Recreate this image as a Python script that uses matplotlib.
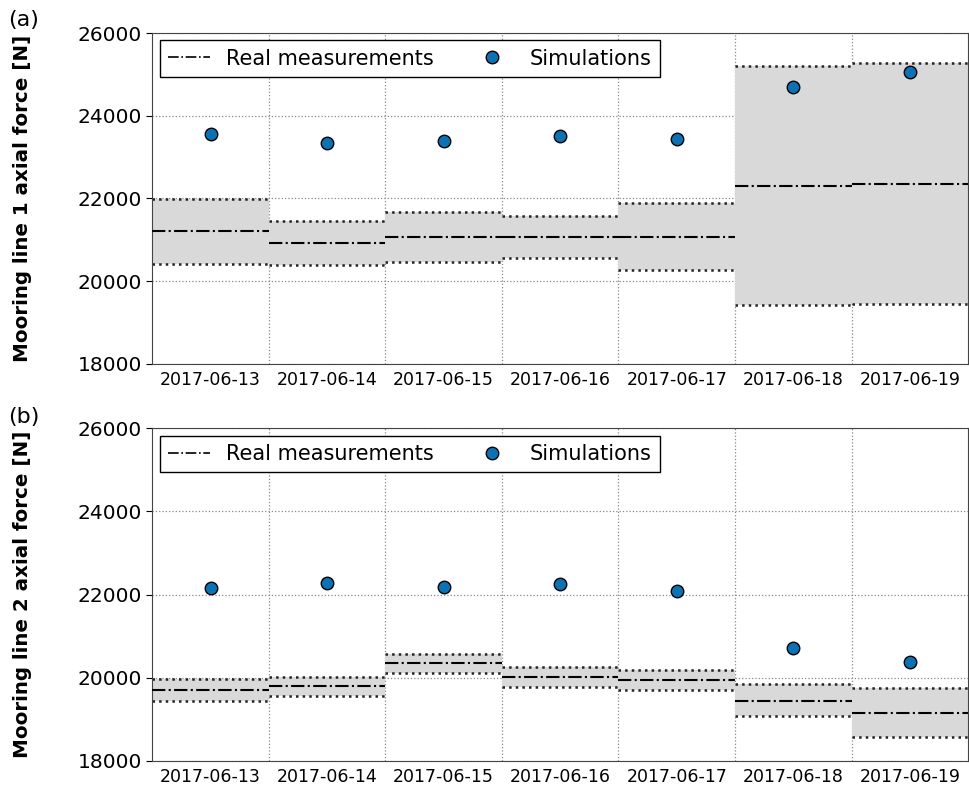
import matplotlib
matplotlib.use("Agg")
import matplotlib.pyplot as plt
from matplotlib.lines import Line2D
import numpy as np

days = ["2017-06-13", "2017-06-14", "2017-06-15", "2017-06-16",
        "2017-06-17", "2017-06-18", "2017-06-19"]

# mooring line 1: daily mean / max / min of measured force, and simulated value
line1_mean = [21210, 20920, 21070, 21075, 21070, 22310, 22355]
line1_upper = [21990, 21450, 21670, 21580, 21890, 25205, 25280]
line1_lower = [20415, 20390, 20460, 20570, 20270, 19425, 19440]
line1_sim = [23560, 23340, 23380, 23510, 23430, 24700, 25050]

# mooring line 2
line2_mean = [19700, 19790, 20350, 20010, 19950, 19450, 19160]
line2_upper = [19980, 20010, 20575, 20250, 20190, 19850, 19745]
line2_lower = [19430, 19560, 20110, 19770, 19700, 19070, 18580]
line2_sim = [22170, 22290, 22180, 22260, 22080, 20720, 20375]

sim_color = "#0a72b5"


def draw_panel(ax, mean, upper, lower, sim, ylabel):
    for i in range(len(days)):
        x0, x1 = i, i + 1
        ax.fill_between([x0, x1], [lower[i]] * 2, [upper[i]] * 2,
                        color="#d9d9d9", lw=0, zorder=1)
        ax.plot([x0, x1], [upper[i]] * 2, color="#222222", ls=":", lw=1.8, zorder=2)
        ax.plot([x0, x1], [lower[i]] * 2, color="#222222", ls=":", lw=1.8, zorder=2)
        ax.plot([x0, x1], [mean[i]] * 2, color="black", ls="-.", lw=1.5, zorder=3)
    centers = np.arange(len(days)) + 0.5
    ax.plot(centers, sim, ls="none", marker="o", ms=9, mfc=sim_color,
            mec="black", mew=1.0, zorder=4)

    ax.set_xlim(0, len(days))
    ax.set_ylim(18000, 26000)
    ax.set_yticks([18000, 20000, 22000, 24000, 26000])
    ax.set_xticks(centers)
    ax.set_xticklabels(days, fontsize=12.5)
    ax.set_xticks(np.arange(1, len(days)), minor=True)
    ax.tick_params(axis="x", which="both", length=0, pad=5)
    ax.tick_params(axis="y", labelsize=14.5, length=4)
    ax.grid(True, axis="y", which="major", ls=":", color="#888888", lw=0.9)
    ax.grid(True, axis="x", which="minor", ls=":", color="#888888", lw=0.9)
    ax.set_axisbelow(True)
    for s in ax.spines.values():
        s.set_color("#444444")
    ax.set_ylabel(ylabel, fontsize=14.3, fontweight="bold")
    ax.yaxis.set_label_coords(-0.147, 0.5)

    handles = [Line2D([], [], color="black", ls="-.", lw=1.2),
               Line2D([], [], ls="none", marker="o", ms=9, mfc=sim_color,
                      mec="black", mew=1.0)]
    leg = ax.legend(handles, ["Real measurements", "Simulations"], ncol=2,
                    loc="upper left", fontsize=15, fancybox=False,
                    edgecolor="black", framealpha=1, columnspacing=1.8,
                    borderaxespad=0.35)
    leg.get_frame().set_linewidth(1.0)


fig = plt.figure(figsize=(9.7, 7.86), dpi=100)
ax1 = fig.add_axes([0.157, 0.537, 0.841, 0.421])
ax2 = fig.add_axes([0.157, 0.032, 0.841, 0.423])

draw_panel(ax1, line1_mean, line1_upper, line1_lower, line1_sim,
           "Mooring line 1 axial force [N]")
draw_panel(ax2, line2_mean, line2_upper, line2_lower, line2_sim,
           "Mooring line 2 axial force [N]")

fig.text(0.008, 0.975, "(a)", fontsize=16, va="center")
fig.text(0.008, 0.47, "(b)", fontsize=16, va="center")

fig.savefig("out.png", dpi=100)
